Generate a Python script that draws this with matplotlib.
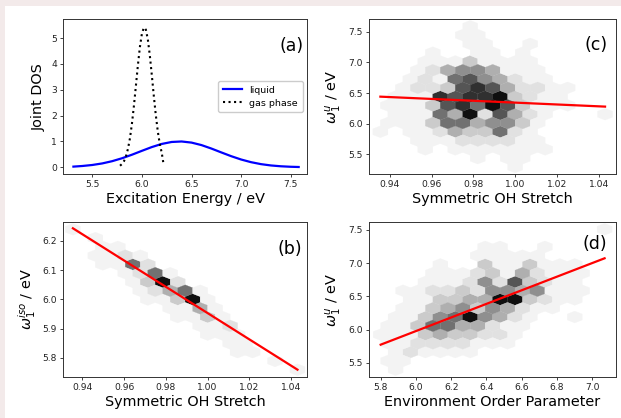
import numpy as np
import matplotlib
matplotlib.use("Agg")
import matplotlib.pyplot as plt
from matplotlib.patches import Rectangle
from matplotlib.colors import Normalize

# ---------------- data ----------------
# (a) joint density of states
liquid_E = [5.31, 5.4, 5.5, 5.6, 5.7, 5.8, 5.9, 6.0, 6.1, 6.2, 6.3, 6.4, 6.5,
            6.6, 6.7, 6.8, 6.9, 7.0, 7.1, 7.2, 7.3, 7.4, 7.5, 7.58]
liquid_dos = [0.026, 0.050, 0.089, 0.149, 0.236, 0.350, 0.487, 0.637, 0.783,
              0.904, 0.980, 0.999, 0.956, 0.860, 0.726, 0.576, 0.430, 0.301,
              0.198, 0.122, 0.071, 0.039, 0.020, 0.011]
gas_E = [5.78, 5.80, 5.82, 5.84, 5.86, 5.88, 5.90, 5.92, 5.94, 5.96, 5.98,
         6.00, 6.02, 6.04, 6.06, 6.08, 6.10, 6.12, 6.14, 6.16, 6.18, 6.20, 6.215]
gas_dos = [0.06, 0.13, 0.24, 0.43, 0.72, 1.13, 1.70, 2.39, 3.17, 3.96, 4.66,
           5.17, 5.41, 5.33, 4.95, 4.33, 3.57, 2.77, 2.03, 1.40, 0.91, 0.56, 0.20]

# hexbin counts (0-9 shade level, '.' = empty), rows from top to bottom;
# even rows hold the outer lattice, odd rows the offset lattice
b_extent = (0.9355, 1.0430, 5.760, 6.2388)
b_counts = [
    "1...............",
    ".1..............",
    "..11............",
    ".1121...........",
    "..1162..........",
    "...1261.........",
    "....1392........",
    "....12461.......",
    ".....11391......",
    "......1141......",
    ".......1131.....",
    "........112.....",
    ".........111....",
    "..........11....",
    "...........11...",
    ".............1..",
    "...............1",
]
b_fit = (10.438, -4.485)   # intercept, slope

c_extent = (0.9355, 1.0430, 5.294, 7.588)
c_counts = [
    "......1.........",
    ".....11.........",
    "......11..1.....",
    "...1..11.1......",
    "...11131111.....",
    "..124554111.....",
    "..1216754211....",
    ".122378742211...",
    ".111878893211...",
    "1113786973111...",
    ".11164927421...1",
    "11136645531.....",
    "1.112433621.....",
    "..111222211.....",
    "...1.1111111....",
    "......1.11......",
    ".........1......",
]
c_fit = (7.853, -1.51)

d_extent = (5.80, 7.07, 5.40, 7.506)
d_counts = [
    "...............1",
    "................",
    ".......11..1....",
    "......11111.....",
    "....1..3113111..",
    "...11123142111..",
    "...11125273211..",
    ".1122325545111..",
    "..113344993211..",
    ".11345354211....",
    ".1135695421..1..",
    "1136644211......",
    "1113433221......",
    "112222111.......",
    ".121111.........",
    "11..............",
    ".1..............",
]
d_fit = (-0.144, 1.0205)

GRIDSIZE = 15


def cells_to_points(rows, extent, gridsize=GRIDSIZE):
    """Turn the shade table into hex-centre coordinates and weights."""
    xmin, xmax, ymin, ymax = extent
    ny = int(gridsize / np.sqrt(3))
    sx = (xmax - xmin) / gridsize
    sy = (ymax - ymin) / ny
    xs, ys, ws = [], [], []
    nrows = len(rows)
    for r, row in enumerate(rows):
        k = nrows - 1 - r
        offset = 0.5 if k % 2 else 0.0
        for i, ch in enumerate(row):
            if ch == ".":
                continue
            xs.append(xmin + (i + offset) * sx)
            ys.append(ymin + (k / 2.0) * sy)
            ws.append(int(ch))
    return np.array(xs), np.array(ys), np.array(ws, float)


# ---------------- figure ----------------
W, H = 621, 418
fig = plt.figure(figsize=(W / 100, H / 100), dpi=100)
fig.patch.set_facecolor("#f3eaea")
fig.add_artist(Rectangle((5 / W, 0), 1, 1 - 6 / H, transform=fig.transFigure,
                         facecolor="white", edgecolor="none", zorder=-10))


def make_axes(left, right, top, bottom):
    return fig.add_axes([left / W, 1 - bottom / H, (right - left) / W,
                         (bottom - top) / H])


ax_a = make_axes(63.3, 307.3, 19.3, 174.0)
ax_b = make_axes(63.3, 307.3, 222.3, 376.7)
ax_c = make_axes(369.3, 615.5, 19.3, 174.0)
ax_d = make_axes(369.3, 615.5, 222.3, 376.7)

tick_fs = 6.6
label_fs = 10.4
panel_fs = 12.5

for ax in (ax_a, ax_b, ax_c, ax_d):
    ax.tick_params(labelsize=tick_fs, length=2.5, width=0.6, pad=2,
                   colors="#222222")
    for sp in ax.spines.values():
        sp.set_linewidth(0.7)
        sp.set_color("#333333")

# (a)
ax_a.plot(liquid_E, liquid_dos, color="#0000ff", lw=1.6, label="liquid")
ax_a.plot(gas_E, gas_dos, color="black", lw=1.5, ls=":", label="gas phase")
ax_a.set_xlim(5.208, 7.667)
ax_a.set_ylim(-0.26, 5.73)
ax_a.set_xticks([5.5, 6.0, 6.5, 7.0, 7.5])
ax_a.set_yticks([0, 1, 2, 3, 4, 5])
ax_a.set_xlabel("Excitation Energy / eV", fontsize=label_fs, labelpad=2)
ax_a.set_ylabel("Joint DOS", fontsize=label_fs, labelpad=4)
ax_a.legend(loc="center right", fontsize=6.8, handlelength=2.0,
            borderpad=0.5, labelspacing=0.4, framealpha=1, edgecolor="#cccccc")
ax_a.text(0.985, 0.83, "(a)", transform=ax_a.transAxes, ha="right",
          va="center", fontsize=panel_fs)

norm = Normalize(vmin=0, vmax=9.5)


def hex_panel(ax, rows, extent, fit, xlim, ylim):
    xs, ys, ws = cells_to_points(rows, extent)
    ax.hexbin(xs, ys, C=ws, gridsize=GRIDSIZE, extent=extent,
              reduce_C_function=np.sum, cmap="Greys", norm=norm,
              linewidths=0.2)
    xfit = np.array([extent[0], extent[1]])
    ax.plot(xfit, fit[0] + fit[1] * xfit, color="#ff0000", lw=1.6)
    ax.set_xlim(*xlim)
    ax.set_ylim(*ylim)


hex_panel(ax_b, b_counts, b_extent, b_fit, (0.9309, 1.0477), (5.7362, 6.2627))
ax_b.set_xticks([0.94, 0.96, 0.98, 1.00, 1.02, 1.04])
ax_b.set_yticks([5.8, 5.9, 6.0, 6.1, 6.2])
ax_b.set_xlabel("Symmetric OH Stretch", fontsize=label_fs, labelpad=2)
ax_b.set_ylabel(r"$\omega_1^{iso}$ / eV", fontsize=label_fs, labelpad=3)
ax_b.text(0.977, 0.827, "(b)", transform=ax_b.transAxes, ha="right",
          va="center", fontsize=panel_fs)

hex_panel(ax_c, c_counts, c_extent, c_fit, (0.9302, 1.0480), (5.179, 7.702))
ax_c.set_xticks([0.94, 0.96, 0.98, 1.00, 1.02, 1.04])
ax_c.set_yticks([5.5, 6.0, 6.5, 7.0, 7.5])
ax_c.set_xlabel("Symmetric OH Stretch", fontsize=label_fs, labelpad=2)
ax_c.set_ylabel(r"$\omega_1^{u}$ / eV", fontsize=label_fs, labelpad=3)
ax_c.text(0.969, 0.834, "(c)", transform=ax_c.transAxes, ha="right",
          va="center", fontsize=panel_fs)

hex_panel(ax_d, d_counts, d_extent, d_fit, (5.7355, 7.1319), (5.2944, 7.611))
ax_d.set_xticks([5.8, 6.0, 6.2, 6.4, 6.6, 6.8, 7.0])
ax_d.set_yticks([5.5, 6.0, 6.5, 7.0, 7.5])
ax_d.set_xlabel("Environment Order Parameter", fontsize=label_fs, labelpad=2)
ax_d.set_ylabel(r"$\omega_1^{u}$ / eV", fontsize=label_fs, labelpad=3)
ax_d.text(0.965, 0.86, "(d)", transform=ax_d.transAxes, ha="right",
          va="center", fontsize=panel_fs)

fig.savefig("out.png", dpi=100, facecolor=fig.get_facecolor())
